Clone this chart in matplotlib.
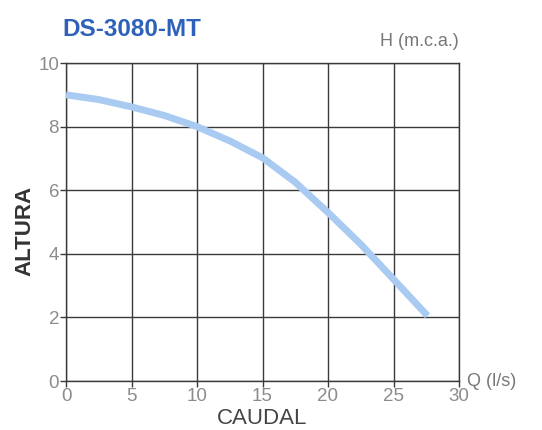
import numpy as np
import matplotlib
matplotlib.use('Agg')
import matplotlib.pyplot as plt

# curve
caudal = [0, 2.5, 5, 7.5, 10, 12.5, 15, 17.5, 20, 22.5, 25, 27.6]
altura = [9.0, 8.85, 8.62, 8.35, 8.0, 7.55, 7.02, 6.25, 5.3, 4.3, 3.2, 2.05]

x_ticks = [0, 5, 10, 15, 20, 25, 30]
y_ticks = [0, 2, 4, 6, 8, 10]

plt.rcParams['font.family'] = ['Liberation Sans', 'DejaVu Sans']

W, H = 542, 430
fig = plt.figure(figsize=(W / 100, H / 100), dpi=100)
ax = fig.add_axes([66 / W, 1 - 381 / H, 393 / W, 318 / H])

ax.plot(caudal, altura, color='#a9cbf2', linewidth=5, solid_capstyle='butt', zorder=3)

ax.set_xlim(0, 30)
ax.set_ylim(0, 10)
ax.set_xticks(x_ticks)
ax.set_yticks(y_ticks)
ax.grid(True, color='#3a3a3a', linewidth=1.0)
ax.set_axisbelow(True)

for side in ['left', 'bottom', 'top', 'right']:
    ax.spines[side].set_color('#3a3a3a')
    ax.spines[side].set_linewidth(1.0)

ax.tick_params(axis='both', colors='#3a3a3a', labelcolor='#8c8c8c', labelsize=13.5,
               length=4, width=1, direction='out')
ax.tick_params(axis='x', pad=1)
ax.tick_params(axis='y', pad=1)

fig.text(62 / W, 1 - 29 / H, 'DS-3080-MT', color='#2e62ba', fontsize=17.5, fontweight='bold',
         ha='left', va='center')
fig.text(459 / W, 1 - 41 / H, 'H (m.c.a.)', color='#777777', fontsize=13, ha='right', va='center')
fig.text(467 / W, 1 - 381 / H, 'Q (l/s)', color='#777777', fontsize=13, ha='left', va='center')
fig.text(262 / W, 1 - 418 / H, 'CAUDAL', color='#444444', fontsize=16, ha='center', va='center')
fig.text(25 / W, 1 - 231 / H, 'ALTURA', color='#333333', fontsize=16, fontweight='bold',
         rotation=90, ha='center', va='center')

fig.savefig('out.png', dpi=100)
